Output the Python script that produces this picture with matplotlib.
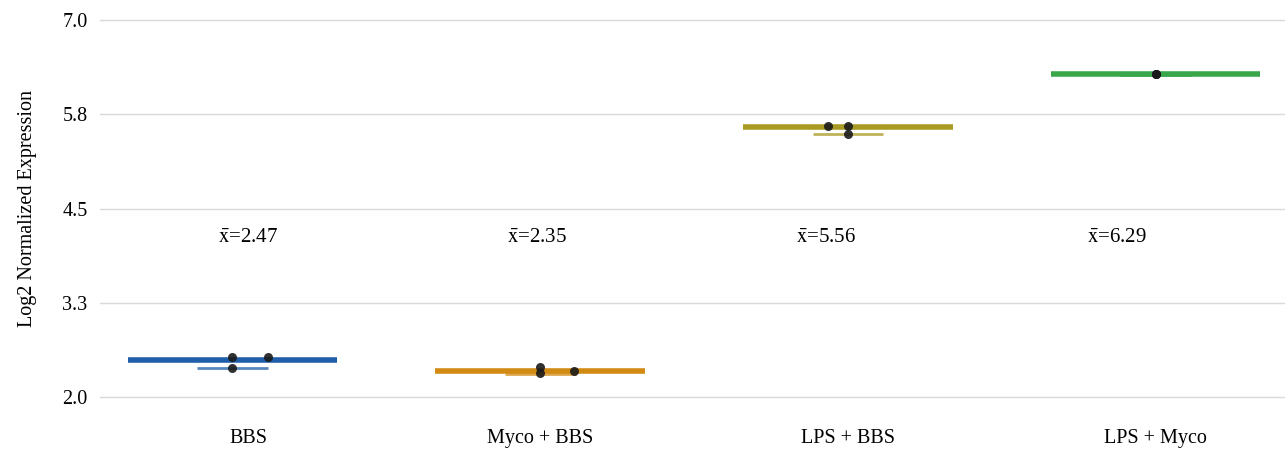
import matplotlib.pyplot as plt
import matplotlib.transforms as mtransforms
import numpy as np

plt.rcParams['font.family'] = ['Liberation Serif', 'DejaVu Serif']
plt.rcParams['mathtext.fontset'] = 'stix'

groups = ['BBS', 'Myco + BBS', 'LPS + BBS', 'LPS + Myco']
colors = ['#1f5ea8', '#d18a12', '#a89a22', '#3aa64a']
# replicate values per group
points = [
    [2.53, 2.385, 2.53],
    [2.394, 2.314, 2.349],
    [5.598, 5.488, 5.598],
    [6.284, 6.284, 6.284],
]
point_offsets = [
    [0.0, 0.0, 0.117],
    [0.0, 0.0, 0.11],
    [-0.065, 0.0, 0.0],
    [0.0, 0.0, 0.0],
]
box_level = [2.49, 2.349, 5.577, 6.284]
lower_level = [2.385, 2.305, 5.484, 6.275]
means = [2.47, 2.35, 5.56, 6.29]
mean_x = [-0.047, 0.892, 1.831, 2.777]
yticks = [2.0, 3.25, 4.5, 5.75, 7.0]
ytick_labels = ['2.0', '3.3', '4.5', '5.8', '7.0']

fig = plt.figure(figsize=(12.85, 4.49), dpi=100)
ax = fig.add_axes([100 / 1285, 52 / 449, 1185 / 1285, 377 / 449])

x = np.arange(len(groups))
for i in range(len(groups)):
    ax.hlines(box_level[i], x[i] - 0.34, x[i] + 0.34, color=colors[i],
              linewidth=4, zorder=3)
    ax.hlines(lower_level[i], x[i] - 0.115, x[i] + 0.115, color=colors[i],
              linewidth=2, alpha=0.75, zorder=2)
    px = x[i] + np.array(point_offsets[i])
    ax.scatter(px, points[i], s=42, color='#1a1a1a', alpha=0.9, zorder=4,
               linewidths=0)
    ax.text(mean_x[i], 4.11, r'$\bar{\mathrm{x}}$' + f'={means[i]:.2f}',
            fontsize=15, ha='left', va='center')

ax.set_xlim(-0.43, 3.42)
ax.set_ylim(2.0, 7.0)
ax.set_yticks(yticks)
ax.set_yticklabels(ytick_labels, fontsize=14.5)
ax.set_xticks(x)
ax.set_xticklabels(groups, fontsize=14.5)
ax.tick_params(axis='y', length=0, pad=9)
ax.tick_params(axis='x', length=0, pad=23)
ax.grid(axis='y', color='#d9d9d9', linewidth=1)
for gl in ax.get_ygridlines():
    gl.set_clip_on(False)
ax.set_axisbelow(True)
for s in ax.spines.values():
    s.set_visible(False)
ax.set_ylabel('Log2 Normalized Expression', fontsize=14.5, labelpad=18)

# first category label sits a little right of its box in the original
lbl = ax.get_xticklabels()[0]
lbl.set_transform(lbl.get_transform() +
                  mtransforms.ScaledTranslation(16 / 100, 0, fig.dpi_scale_trans))

fig.savefig('out.png', dpi=100)
